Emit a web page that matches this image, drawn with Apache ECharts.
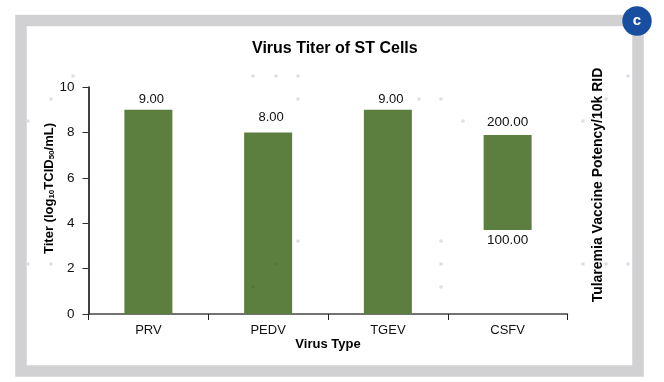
<!DOCTYPE html>
<html><head><meta charset="utf-8">
<style>html,body{margin:0;padding:0;background:#fff}#c{width:664px;height:382px}</style>
<script src="https://cdn.jsdelivr.net/npm/echarts@6/dist/echarts.min.js"></script>
</head><body><div id="c"></div>
<script>
const categories = ['PRV','PEDV','TGEV','CSFV'];
const titerValues = [9, 8, 9, null];
const potencyLow = [null, null, null, 100];
const potencyHigh = [null, null, null, 200];
const leftTicks = {min:0, max:10, interval:2};
const rightRange = {min:11.6, max:250.5};
const dots = [[73,76],[253,76],[276,76],[298,76],[51,99],[298,99],[28,121],[419,99],[441,99],[463,121],[583,121],[606,99],[628,76],
  [28,264],[51,264],[73,264],[298,241],[441,241],[441,264],[441,287],[583,264],[606,264],[628,264]];
const darkDots = [[276,264],[253,287]];
const FONT = '"Liberation Sans", Arial, sans-serif';
const BAR = '#5c7f3f', INK = '#111';
const graphics = [
  {type:'rect', z:-1, shape:{x:21,y:20.5,width:617,height:350.5}, style:{fill:'#fff',stroke:'#d1d1d3',lineWidth:11.5}},
  ...dots.map(d=>({type:'rect', z:0, silent:true, shape:{x:d[0]-1.5,y:d[1]-1.5,width:3,height:3}, style:{fill:'#dcdcdc'}})),
  ...darkDots.map(d=>({type:'rect', z:10, silent:true, shape:{x:d[0]-1.5,y:d[1]-1.5,width:3,height:3}, style:{fill:'#557539'}})),
  {type:'circle', z:20, shape:{cx:637,cy:21,r:14.7}, style:{fill:'#174ea0'}},
  {type:'text', z:21, x:637, y:21, style:{text:'c',fill:'#fff',font:'bold 15px '+FONT,align:'center',verticalAlign:'middle'}}
];
const chart = echarts.init(document.getElementById('c'), null, {renderer:'canvas'});
chart.setOption({
  animation:false,
  backgroundColor:'#fff',
  graphic:graphics,
  title:{text:'Virus Titer of ST Cells', left:252, top:41, padding:0,
    textStyle:{fontFamily:FONT,fontSize:16,fontWeight:'bold',color:'#000'}},
  grid:{left:88.5, right:96.5, top:87, bottom:68, containLabel:false},
  xAxis:{type:'category', data:categories, name:'Virus Type', nameLocation:'middle', nameGap:24, nameMoveOverlap:false,
    nameTextStyle:{fontFamily:FONT,fontSize:13,fontWeight:'bold',color:'#000'},
    axisLine:{lineStyle:{color:'#444',width:1.5}},
    axisTick:{show:true,alignWithLabel:false,length:6,lineStyle:{color:'#222',width:1}},
    axisLabel:{fontFamily:FONT,fontSize:13,color:INK,margin:10}},
  yAxis:[
    {type:'value', min:leftTicks.min, max:leftTicks.max, interval:leftTicks.interval,
      name:'{a|Titer (log}{s|10}{a|TCID}{s|50}{a|/mL)}', nameLocation:'middle', nameGap:33, nameRotate:90, nameMoveOverlap:false,
      nameTextStyle:{padding:[0,0,0,24],rich:{a:{fontFamily:FONT,fontSize:13,fontWeight:'bold',color:'#000'},
        s:{fontFamily:FONT,fontSize:8,fontWeight:'bold',color:'#000',verticalAlign:'bottom',padding:[5,0,0,0]}}},
      splitLine:{show:false},
      axisLine:{show:true,lineStyle:{color:'#000',width:1.5}},
      axisTick:{show:true,length:6,lineStyle:{color:'#333',width:1}},
      axisLabel:{fontFamily:FONT,fontSize:13.5,color:INK,margin:14}},
    {type:'value', min:rightRange.min, max:rightRange.max, position:'right',
      name:'Tularemia Vaccine Potency/10k RID', nameLocation:'middle', nameGap:24, nameRotate:90, nameMoveOverlap:false,
      nameTextStyle:{fontFamily:FONT,fontSize:14,fontWeight:'bold',color:'#000',padding:[0,0,0,31]},
      splitLine:{show:false},axisLine:{show:false},axisTick:{show:false},axisLabel:{show:false}}
  ],
  series:[
    {name:'Titer',type:'bar',yAxisIndex:0,barWidth:48,barGap:'-100%',
      data:titerValues.map((v,i)=>v==null?null:{value:v,label:{offset:[3,i===1?-4:0]}}),
      itemStyle:{color:BAR},
      label:{show:true,position:'top',distance:4,formatter:p=>p.value.toFixed(2),fontFamily:FONT,fontSize:13,color:INK}},
    {name:'Potency base',type:'bar',yAxisIndex:1,stack:'potency',data:potencyLow,barWidth:48,barGap:'-100%',
      itemStyle:{color:'transparent'},
      label:{show:true,position:'insideTop',distance:3,formatter:p=>p.value.toFixed(2),fontFamily:FONT,fontSize:13.5,color:INK}},
    {name:'Potency',type:'bar',yAxisIndex:1,stack:'potency',barWidth:48,barGap:'-100%',
      data:potencyHigh.map((h,i)=>h==null?null:h-potencyLow[i]),
      itemStyle:{color:BAR},
      label:{show:true,position:'top',distance:6,formatter:p=>potencyHigh[p.dataIndex].toFixed(2),fontFamily:FONT,fontSize:13.5,color:INK}}
  ]
});
</script></body></html>
